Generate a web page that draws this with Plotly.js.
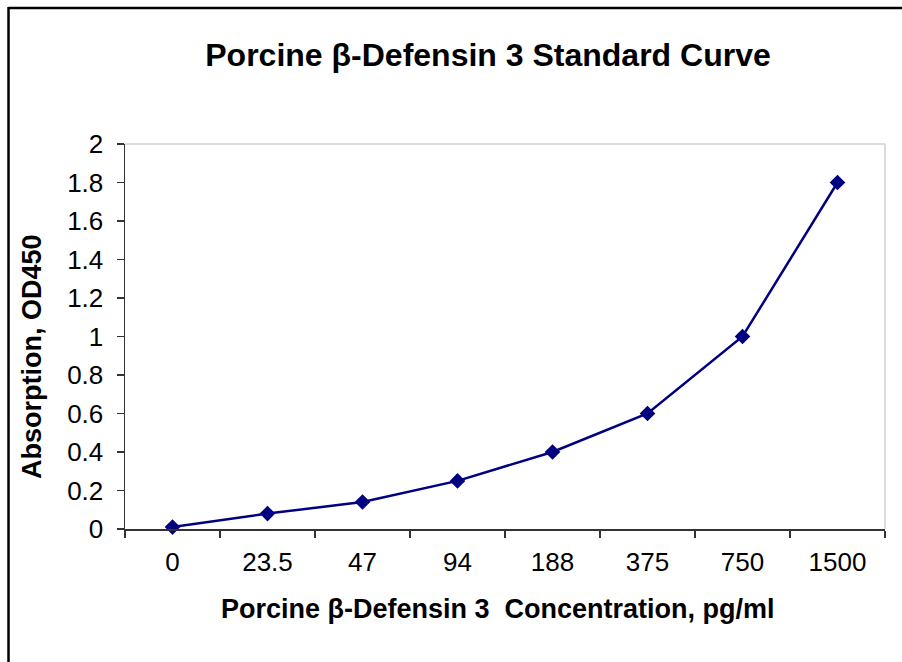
<!DOCTYPE html>
<html>
<head>
<meta charset="utf-8">
<script src="https://cdn.plot.ly/plotly-3.0.1.min.js"></script>
<style>html,body{margin:0;padding:0;background:#fff;}#chart{width:902px;height:662px;}</style>
</head>
<body>
<div id="chart"></div>
<script>
const categories = ["0", "23.5", "47", "94", "188", "375", "750", "1500"];
const absorbance = [0.01, 0.08, 0.14, 0.25, 0.40, 0.60, 1.00, 1.80];
const chartTitle = "Porcine β-Defensin 3 Standard Curve";
const xTitle = "Porcine β-Defensin 3  Concentration, pg/ml";
const yTitle = "Absorption, OD450";

const W = 902, H = 662;
const L = 125, R = 17, T = 144, B = 133;
const pw = W - L - R, ph = H - T - B;
const px = x => (x - L) / pw;
const py = y => (H - B - y) / ph;

const font = "Liberation Sans, Arial, sans-serif";

const trace = {
  x: categories,
  y: absorbance,
  type: "scatter",
  mode: "lines+markers",
  line: {color: "#000080", width: 2.5},
  marker: {symbol: "diamond", size: 12, color: "#000080"},
  cliponaxis: false,
  hoverinfo: "x+y"
};

const layout = {
  width: W, height: H,
  margin: {l: L, r: R, t: T, b: B},
  paper_bgcolor: "#fff",
  plot_bgcolor: "#fff",
  showlegend: false,
  title: {
    text: "<b>" + chartTitle + "</b>",
    font: {family: font, size: 32, color: "#000"},
    x: 488 / W, xref: "container", xanchor: "center",
    y: 1 - 55 / H, yref: "container", yanchor: "middle"
  },
  xaxis: {
    type: "category",
    range: [-0.5, categories.length - 0.5],
    tickson: "boundaries",
    ticks: "outside",
    ticklen: 7,
    tickwidth: 1.5,
    tickcolor: "#333",
    showline: true,
    linecolor: "#333",
    linewidth: 1.5,
    showgrid: false,
    zeroline: false,
    ticklabelstandoff: 9,
    tickfont: {family: font, size: 26, color: "#000"}
  },
  yaxis: {
    range: [0, 2],
    dtick: 0.2,
    tick0: 0,
    ticks: "outside",
    ticklen: 7,
    tickwidth: 1.5,
    tickcolor: "#333",
    showline: true,
    linecolor: "#333",
    linewidth: 1.5,
    showgrid: false,
    zeroline: false,
    ticklabelstandoff: 8,
    tickfont: {family: font, size: 26, color: "#000"}
  },
  annotations: [
    {text: "<b>" + xTitle + "</b>", xref: "paper", yref: "paper", x: px(498), y: py(609),
     xanchor: "center", yanchor: "middle", showarrow: false, font: {family: font, size: 27, color: "#000"}},
    {text: "<b>" + yTitle + "</b>", xref: "paper", yref: "paper", x: px(32), y: py(357), textangle: -90,
     xanchor: "center", yanchor: "middle", showarrow: false, font: {family: font, size: 27, color: "#000"}}
  ],
  shapes: [
    {type: "line", xref: "paper", yref: "paper", x0: 0, x1: 1, y0: 1, y1: 1, line: {color: "#dcdcdc", width: 2}},
    {type: "line", xref: "paper", yref: "paper", x0: 1, x1: 1, y0: 0, y1: 1, line: {color: "#cfcfcf", width: 1.5}},
    {type: "line", xref: "paper", yref: "paper", x0: px(8.5), x1: px(8.5), y0: py(7), y1: py(H + 5), line: {color: "#000", width: 2.5}},
    {type: "line", xref: "paper", yref: "paper", x0: px(8.5), x1: px(W + 5), y0: py(8), y1: py(8), line: {color: "#000", width: 2.5}}
  ]
};

Plotly.newPlot("chart", [trace], layout, {displayModeBar: false, staticPlot: true});
</script>
</body>
</html>
